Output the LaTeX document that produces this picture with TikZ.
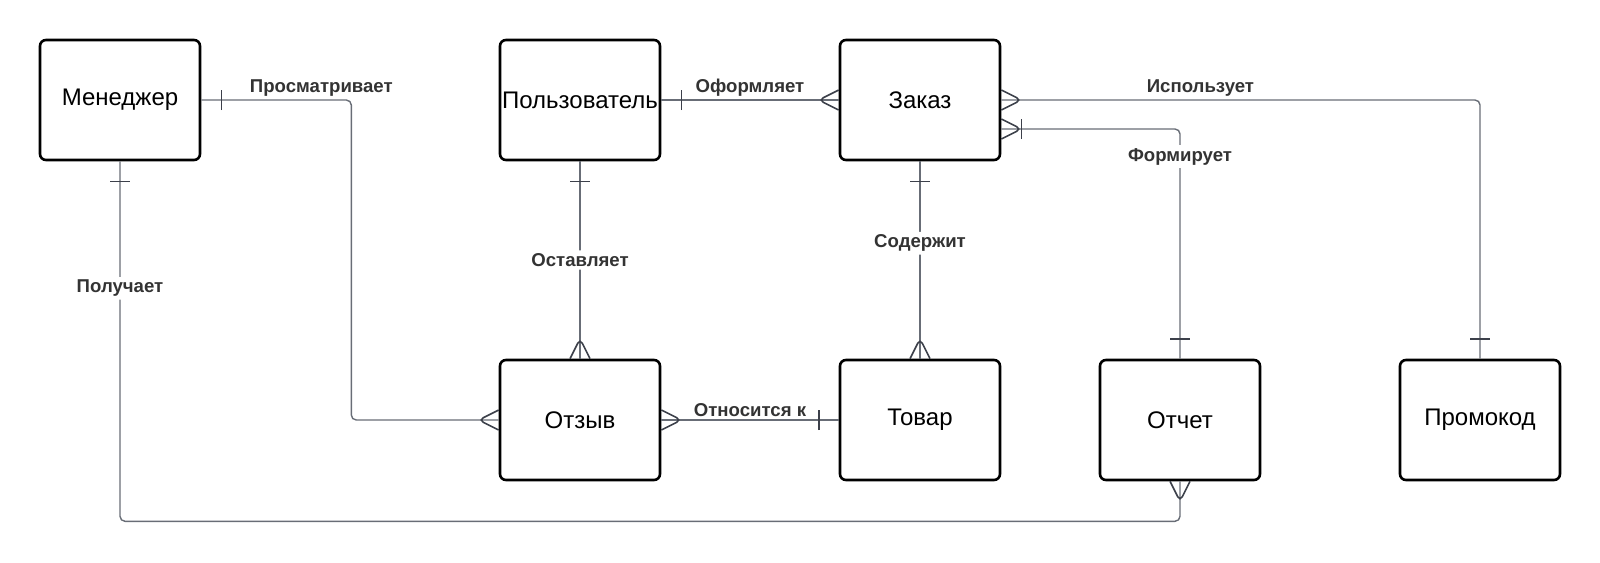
\documentclass[tikz,border=0pt]{standalone}
\usepackage{fontspec}
\setmainfont{Liberation Sans}
\usetikzlibrary{decorations.markings}

\definecolor{relgray}{RGB}{104,109,118}
\definecolor{tipgray}{RGB}{60,64,74}
\definecolor{lblgray}{RGB}{51,51,51}

\tikzset{
  entity/.style={draw=black, line width=1.3pt, rounded corners=3pt,
    minimum width=80pt, minimum height=60pt, inner sep=1pt,
    font=\fontsize{12}{14}\selectfont},
  rel/.style={draw=relgray, line width=0.7pt, rounded corners=2.5pt},
  lbl/.style={font=\bfseries\fontsize{9.3}{11}\selectfont, text=lblgray, inner sep=1.5pt},
  onlbl/.style={lbl, fill=white},
  tipline/.style={draw=tipgray, line width=0.8pt},
  % crow's foot notation
  one start/.style={postaction={decorate, decoration={markings,
      mark=at position 10pt with {\draw[tipline] (0,-5pt) -- (0,5pt);}}}},
  one end/.style={postaction={decorate, decoration={markings,
      mark=at position -10pt with {\draw[tipline] (0,-5pt) -- (0,5pt);}}}},
  many start/.style={postaction={decorate, decoration={markings,
      mark=at position 10pt with {\draw[tipline] (-10pt,5pt) -- (0,0) -- (-10pt,-5pt);}}}},
  many end/.style={postaction={decorate, decoration={markings,
      mark=at position -10pt with {\draw[tipline] (10pt,5pt) -- (0,0) -- (10pt,-5pt);}}}}
}

\begin{document}
\begin{tikzpicture}[node distance=160pt]
   \useasboundingbox (0,0) rectangle (800pt,-281pt);

   \node[entity] (men) at (60pt,-50pt) {Менеджер};
   \node[entity] (polz) [right of=men, node distance=230pt] {Пользователь};
   \node[entity] (zak)  [right of=polz, node distance=170pt] {Заказ};
   \node[entity] (otz)  [below of=polz] {Отзыв};
   \node[entity] (tov)  [below of=zak] {Товар};
   \node[entity] (otch) [right of=tov, node distance=130pt] {Отчет};
   \node[entity] (prom) [right of=otch, node distance=150pt] {Промокод};

   \draw[rel, one start, many end] (men.east) -- ++(75pt,0)
      node[lbl, above, pos=0.8] {Просматривает} |- (otz.west);
   \draw[rel, one start, many end] (men.south) -- ++(0,-180pt)
      node[onlbl, pos=0.353] {Получает} -| (otch.south);
   \draw[rel, one start, many end] (polz.east) -- node[lbl, above] {Оформляет} (zak.west);
   \draw[rel, one start, many end] (polz.south) -- node[onlbl] {Оставляет} (otz.north);
   \draw[rel, one start, many end] (zak.south) -- node[onlbl, pos=0.415] {Содержит} (tov.north);
   \draw[rel, many start, one end] (otz.east) -- node[lbl, above] {Относится к} (tov.west);
   \draw[rel, many start, one start, one end] ([yshift=-14.5pt]zak.east) -|
      node[onlbl, pos=0.56] {Формирует} (otch.north);
   \draw[rel, many start, one end] (zak.east) -|
      node[lbl, above, pos=0.208] {Использует} (prom.north);
\end{tikzpicture}
\end{document}
